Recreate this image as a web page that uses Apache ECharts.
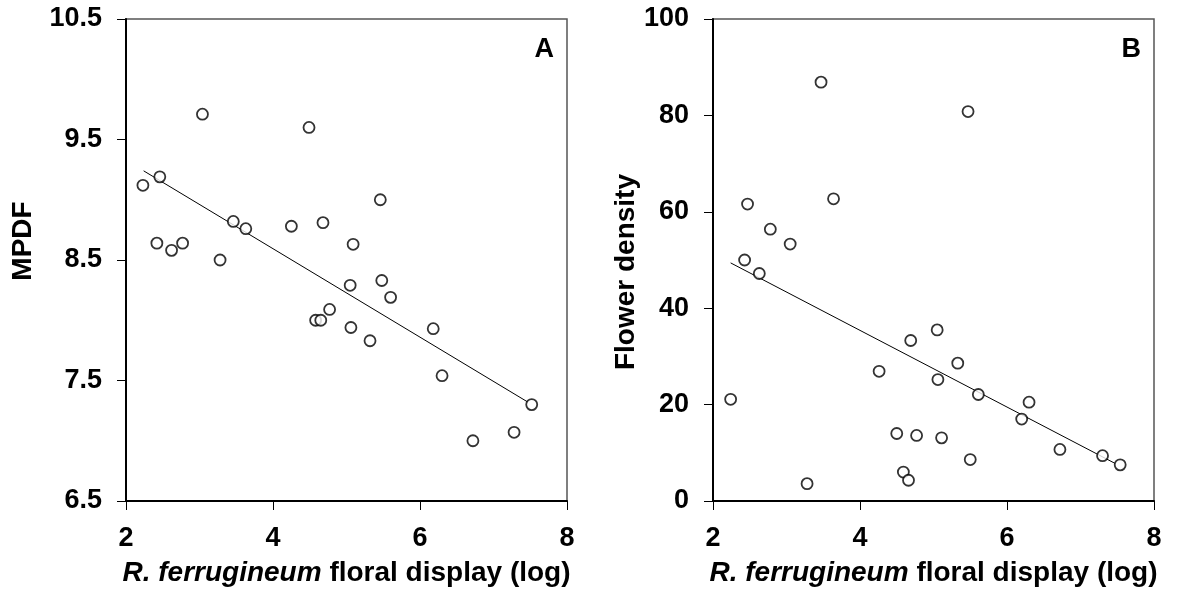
<!DOCTYPE html>
<html>
<head>
<meta charset="utf-8">
<script src="https://cdn.jsdelivr.net/npm/echarts@6/dist/echarts.min.js"></script>
<style>
  html, body { margin: 0; padding: 0; background: #fff; }
  #chart { width: 1185px; height: 592px; }
</style>
</head>
<body>
<div id="chart"></div>
<script>
// floral display (log) for each site, panel A
const displayA = [2.23, 2.46, 3.04, 4.49, 2.42, 2.62, 2.77, 3.28, 3.46, 3.63, 4.25, 4.68, 5.46, 5.09,
  5.05, 5.48, 5.60, 4.77, 4.58, 4.65, 5.06, 5.32, 6.18, 6.30, 7.52, 6.72, 7.28];
const mpdf = [9.12, 9.19, 9.71, 9.60, 8.64, 8.58, 8.64, 8.50, 8.82, 8.76, 8.78, 8.81, 9.00, 8.63,
  8.29, 8.33, 8.19, 8.09, 8.00, 8.00, 7.94, 7.83, 7.93, 7.54, 7.30, 7.00, 7.07];

// panel B
const displayB = [3.47, 5.47, 2.47, 3.64, 2.78, 3.05, 2.43, 2.63, 2.24, 3.28, 5.05, 4.69, 5.33, 4.26,
  5.06, 5.61, 6.30, 6.20, 4.50, 4.77, 5.11, 6.72, 5.50, 7.30, 7.54, 4.59, 4.66];
const flowerDensity = [86.9, 80.8, 61.6, 62.7, 56.4, 53.3, 50.0, 47.2, 21.1, 3.6, 35.5, 33.3, 28.6, 26.9,
  25.2, 22.1, 20.5, 17.0, 14.0, 13.6, 13.1, 10.7, 8.6, 9.4, 7.5, 6.0, 4.3];

// regression line end points
const fitA = [[2.24, 9.24], [7.47, 7.32]];
const fitB = [[2.24, 49.4], [7.47, 7.8]];

const xTicks = [2, 4, 6, 8];
const panelLabels = ["A", "B"];
const yNames = ["MPDF", "Flower density"];
const xName = "{i|R. ferrugineum} floral display (log)";

const font = "'Liberation Sans', Arial, sans-serif";

const chart = echarts.init(document.getElementById("chart"));

const zip = (xs, ys) => xs.map((x, i) => [x, ys[i]]);

const grids = [
  { left: 126, top: 19, width: 441, height: 482 },
  { left: 713, top: 19, width: 441, height: 482 },
];

const xAxisFor = (idx) => ({
  type: "value",
  gridIndex: idx,
  min: xTicks[0],
  max: xTicks[xTicks.length - 1],
  interval: 2,
  splitLine: { show: false },
  axisLine: { lineStyle: { color: "#000", width: 2 } },
  axisTick: { inside: false, length: 9, lineStyle: { color: "#000", width: 1 } },
  axisLabel: { color: "#000", fontSize: 27, fontWeight: "bold", fontFamily: font, margin: 24 },
  name: xName,
  nameLocation: "middle",
  nameGap: 58,
  nameTextStyle: {
    color: "#000", fontSize: 28, fontWeight: "bold", fontFamily: font,
    rich: { i: { fontStyle: "italic", fontWeight: "bold", fontSize: 28, fontFamily: font, color: "#000" } },
  },
});

const yAxisBase = {
  type: "value",
  splitLine: { show: false },
  axisLine: { show: true, lineStyle: { color: "#000", width: 2 } },
  axisTick: { show: true, inside: false, length: 9, lineStyle: { color: "#000", width: 1 } },
  axisLabel: { color: "#000", fontSize: 27, fontWeight: "bold", fontFamily: font, margin: 24 },
  nameLocation: "middle",
  nameRotate: 90,
};

const nameStyle = { color: "#000", fontSize: 28, fontWeight: "bold", fontFamily: font };

const pointStyle = {
  type: "scatter",
  symbol: "circle",
  symbolSize: 11,
  itemStyle: { color: "#fff", borderColor: "#000", borderWidth: 1.8 },
  z: 3,
};

const fitStyle = {
  type: "line",
  symbol: "none",
  lineStyle: { color: "#000", width: 1 },
  z: 2,
};

const option = {
  animation: false,
  backgroundColor: "#fff",
  grid: grids.map((g) => ({ ...g, show: true, borderColor: "#555", borderWidth: 1.5 })),
  xAxis: [xAxisFor(0), xAxisFor(1)],
  yAxis: [
    { ...yAxisBase, gridIndex: 0, min: 6.5, max: 10.5, interval: 1, name: yNames[0], nameGap: 89,
      nameTextStyle: { ...nameStyle, padding: [0, 0, 0, 38] },
      axisLabel: { ...yAxisBase.axisLabel, formatter: (v) => v.toFixed(1) } },
    { ...yAxisBase, gridIndex: 1, min: 0, max: 100, interval: 20, name: yNames[1], nameGap: 73,
      nameTextStyle: { ...nameStyle, padding: [0, 24, 0, 0] } },
  ],
  graphic: panelLabels.map((t, i) => ({
    type: "text",
    right: i === 0 ? 1185 - 554 : 1185 - 1141,
    top: 36,
    style: { text: t, fontSize: 27, fontWeight: "bold", fontFamily: font, fill: "#000" },
  })),
  series: [
    { ...fitStyle, xAxisIndex: 0, yAxisIndex: 0, data: fitA },
    { ...pointStyle, xAxisIndex: 0, yAxisIndex: 0, data: zip(displayA, mpdf) },
    { ...fitStyle, xAxisIndex: 1, yAxisIndex: 1, data: fitB },
    { ...pointStyle, xAxisIndex: 1, yAxisIndex: 1, data: zip(displayB, flowerDensity) },
  ],
};

chart.setOption(option);
window.addEventListener("resize", () => chart.resize());
</script>
</body>
</html>
